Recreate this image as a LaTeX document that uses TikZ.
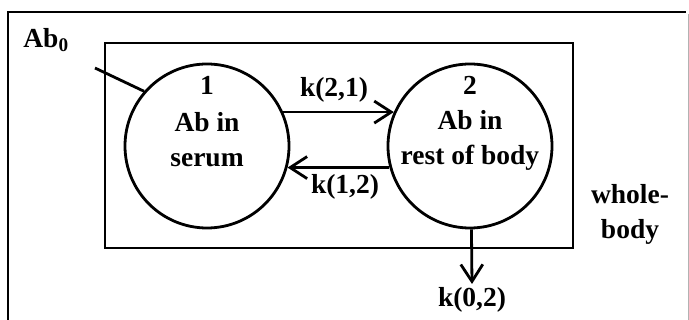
\documentclass[tikz,border=0pt]{standalone}
\usepackage{fontspec}
\setmainfont{Liberation Serif}
\usetikzlibrary{arrows.meta}
\begin{document}
\begin{tikzpicture}[x=1pt,y=-1pt,
  lbl/.style={font=\fontsize{27.5}{35}\selectfont\bfseries, inner sep=0pt, align=center},
  comp/.style={circle, draw, line width=2.8pt, minimum size=164pt, inner sep=0pt},
  thick line/.style={line width=2.8pt},
  flow/.style={line width=2.8pt, -{Straight Barb[length=17pt,width=22pt,line width=2.8pt]}}]
\useasboundingbox (0,0) rectangle (689,320);
% outer frame (open at bottom)
\draw[line width=2.2pt] (8,320) -- (8,12) -- (686,12);
\draw[line width=1pt, gray!60] (688,14) -- (688,320);
% inner whole-body box
\node[draw, thick line, minimum width=468pt, minimum height=205pt, inner sep=0pt] (box) at (339,145.5) {};
% compartments
\node[comp] (c1) at (207,146) {};
\node[comp] (c2) at (470,146) {};
\node[lbl] (n1) at (207,85) {1};
\node[lbl] (t1) at (207,140) {Ab in\\serum};
\node[lbl] (n2) at (470,85) {2};
\node[lbl] (t2) at (470,140) {Ab in\\rest of body};
% transfers
\draw[flow] (c1.24) -- (c2.156);
\draw[flow] (c2.195) -- (c1.-15);
\node[lbl] (k21) at (334,90) {k(2,1)};
\node[lbl] (k12) at (345,187) {k(1,2)};
% elimination
\coordinate (e2) at (472,284);
\draw[flow] (c2.-89) -- (e2);
\node[lbl, anchor=north] (k02) at (472,287) {k(0,2)};
% input
\node[lbl] (ab0) at (46,40) {Ab\textsubscript{0}};
\coordinate (in0) at (95,68);
\draw[thick line] (in0) -- (c1.139);
% whole-body label
\node[lbl] (wb) at (630,214) {whole-\\body};
\end{tikzpicture}
\end{document}
